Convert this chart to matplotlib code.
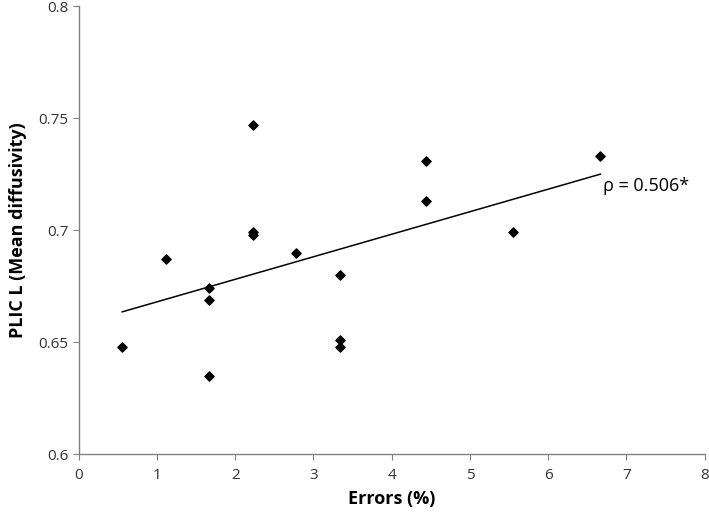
import numpy as np
import matplotlib
matplotlib.use("Agg")
import matplotlib.pyplot as plt

# Errors (%) and PLIC L mean diffusivity
errors = [0.556, 1.111, 1.667, 1.667, 1.667, 2.222, 2.222, 2.222,
          2.778, 3.333, 3.333, 3.333, 4.444, 4.444, 5.556, 6.667]
plic_md = [0.648, 0.687, 0.674, 0.669, 0.635, 0.747, 0.699, 0.698,
           0.690, 0.680, 0.651, 0.648, 0.731, 0.713, 0.699, 0.733]
x_ticks = [0, 1, 2, 3, 4, 5, 6, 7, 8]
y_ticks = [0.6, 0.65, 0.7, 0.75, 0.8]
y_tick_labels = ["0.6", "0.65", "0.7", "0.75", "0.8"]
rho_label = "\u03c1 = 0.506*"

plt.rcParams['font.family'] = ['Open Sans', 'DejaVu Sans']

fig = plt.figure(figsize=(7.09, 5.12), dpi=100)
ax = fig.add_axes([0.111, 0.113, 0.883, 0.875])

ax.scatter(errors, plic_md, marker='D', s=22, color='black', zorder=3)

# linear trend line over the data range
slope, intercept = np.polyfit(errors, plic_md, 1)
xs = np.array([min(errors), max(errors)])
ax.plot(xs, slope * xs + intercept, color='black', linewidth=1.1)

ax.text(6.70, 0.7195, rho_label, fontsize=13, va='center', ha='left')

ax.set_xlim(0, 8)
ax.set_ylim(0.6, 0.8)
ax.set_xticks(x_ticks)
ax.set_yticks(y_ticks)
ax.set_yticklabels(y_tick_labels)

for side in ['top', 'right']:
    ax.spines[side].set_visible(False)
for side in ['left', 'bottom']:
    ax.spines[side].set_color('#808080')
    ax.spines[side].set_linewidth(1)
ax.tick_params(axis='both', direction='out', length=4, color='#808080',
               labelsize=11, labelcolor='#333333')
ax.tick_params(axis='x', pad=6)

ax.set_xlabel("Errors (%)", fontsize=13, fontweight='bold', labelpad=5)
ax.set_ylabel("PLIC L (Mean diffusivity)", fontsize=13, fontweight='bold', labelpad=8)

fig.savefig("out.png", dpi=100)
